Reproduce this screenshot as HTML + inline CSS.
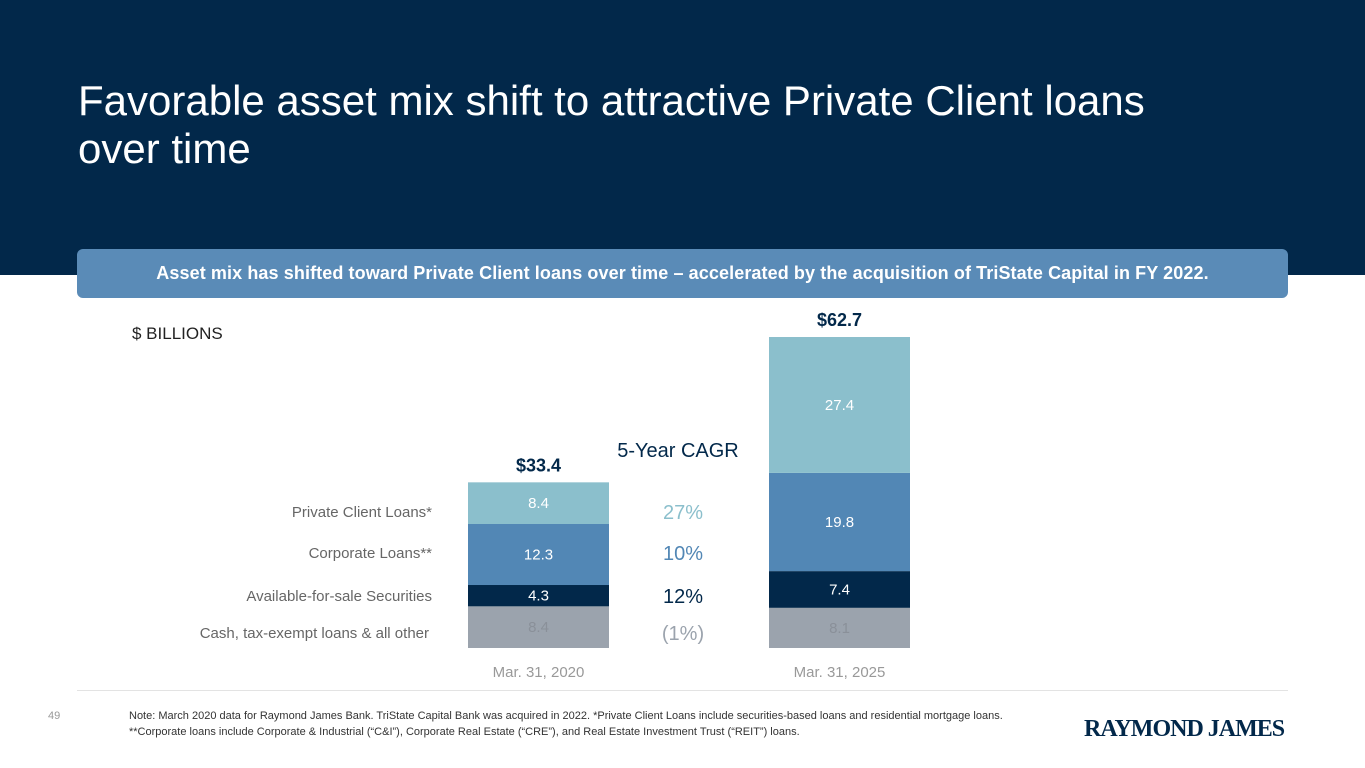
<!DOCTYPE html>
<html><head><meta charset="utf-8"><style>
body{margin:0;width:1365px;height:768px;position:relative;background:#fff;font-family:"Liberation Sans",sans-serif;overflow:hidden}
.hdr{position:absolute;left:0;top:0;width:1365px;height:275px;background:#02284a}
.title{position:absolute;left:78px;top:77px;color:#fff;font-size:42px;line-height:48px;font-weight:normal}
.banner{position:absolute;left:77px;top:249px;width:1211px;height:49px;background:#5a8bb7;border-radius:6px;color:#fff;font-weight:bold;font-size:18px;line-height:49px;text-align:center;letter-spacing:0.1px}
.t{position:absolute;white-space:nowrap}
</style></head><body>
<div class="hdr"></div>
<div class="title">Favorable asset mix shift to attractive Private Client loans<br>over time</div>
<div class="banner">Asset mix has shifted toward Private Client loans over time – accelerated by the acquisition of TriState Capital in FY 2022.</div>
<div class="t" style="left:132px;top:324px;font-size:17px;color:#222">$ BILLIONS</div>
<svg id="chart" width="1365" height="768" style="position:absolute;left:0;top:0"></svg>
<div style="position:absolute;left:77px;top:690px;width:1211px;height:1px;background:#e3e3e3"></div>
<div class="t" style="left:48px;top:710px;font-size:11px;color:#999">49</div>
<div class="t" style="left:129px;top:708px;font-size:11px;line-height:16px;color:#333;white-space:normal;width:915px">Note: March 2020 data for Raymond James Bank. TriState Capital Bank was acquired in 2022. *Private Client Loans include securities-based loans and residential mortgage loans. **Corporate loans include Corporate &amp; Industrial (“C&amp;I”), Corporate Real Estate (“CRE”), and Real Estate Investment Trust (“REIT”) loans.</div>
<div class="t" style="left:1084px;top:716px;font-family:'Liberation Serif',serif;font-weight:bold;font-size:24px;color:#02284a;letter-spacing:-1px">RAYMOND JAMES</div>
<script>
const categories=["Mar. 31, 2020","Mar. 31, 2025"];
const seriesNames=["Cash, tax-exempt loans & all other","Available-for-sale Securities","Corporate Loans**","Private Client Loans*"];
const cashOther=[8.4,8.1];
const afsSecurities=[4.3,7.4];
const corporateLoans=[12.3,19.8];
const privateClient=[8.4,27.4];
const totals=["$33.4","$62.7"];
const cagrLabels=["(1%)","12%","10%","27%"];
const series=[cashOther,afsSecurities,corporateLoans,privateClient];
const colors=["#9ba3ad","#02284a","#5287b5","#8bbfcc"];
const textColors=["#8a9099","#fff","#fff","#fff"];
const cagrColors=["#9ba3ad","#02284a","#5287b5","#8bbfcc"];
const NS="http://www.w3.org/2000/svg";
const svg=document.getElementById('chart');
const base=648, pxPerUnit=4.96, barW=141, barX=[468,769];
const y=v=>base-v*pxPerUnit;
function txt(x,yy,s,size,fill,anchor,weight){const t=document.createElementNS(NS,'text');t.setAttribute('x',x);t.setAttribute('y',yy);t.setAttribute('font-size',size);t.setAttribute('fill',fill);t.setAttribute('text-anchor',anchor||'middle');t.setAttribute('font-family','Liberation Sans, sans-serif');if(weight)t.setAttribute('font-weight',weight);t.textContent=s;svg.appendChild(t);return t;}
categories.forEach((c,i)=>{
  let cum=0;
  series.forEach((s,k)=>{
    const y0=y(cum),y1=y(cum+s[i]);
    const r=document.createElementNS(NS,'rect');
    r.setAttribute('x',barX[i]);r.setAttribute('y',y1);r.setAttribute('width',barW);r.setAttribute('height',y0-y1);r.setAttribute('fill',colors[k]);
    
    
    svg.appendChild(r);
    const lt=txt(barX[i]+barW/2,(y0+y1)/2+5,s[i].toFixed(1),15,textColors[k]);
    
    
    cum+=s[i];
  });
  const tt=txt(barX[i]+barW/2,y(cum)-11,totals[i],18,'#02284a','middle','bold');
  
  
  const ct=txt(barX[i]+barW/2,677,c,15,'#999');
  
  
});
const rowY=[633,596,553,512];
seriesNames.forEach((n,k)=>{
  const l=txt(k===0?429:432,rowY[k]+5,n,15,'#666','end');
  
  
  const g=txt(683,rowY[k]+7,cagrLabels[k],20,cagrColors[k]);
  
  
});
const h=txt(678,457,'5-Year CAGR',20,'#02284a');


</script>
</body></html>
